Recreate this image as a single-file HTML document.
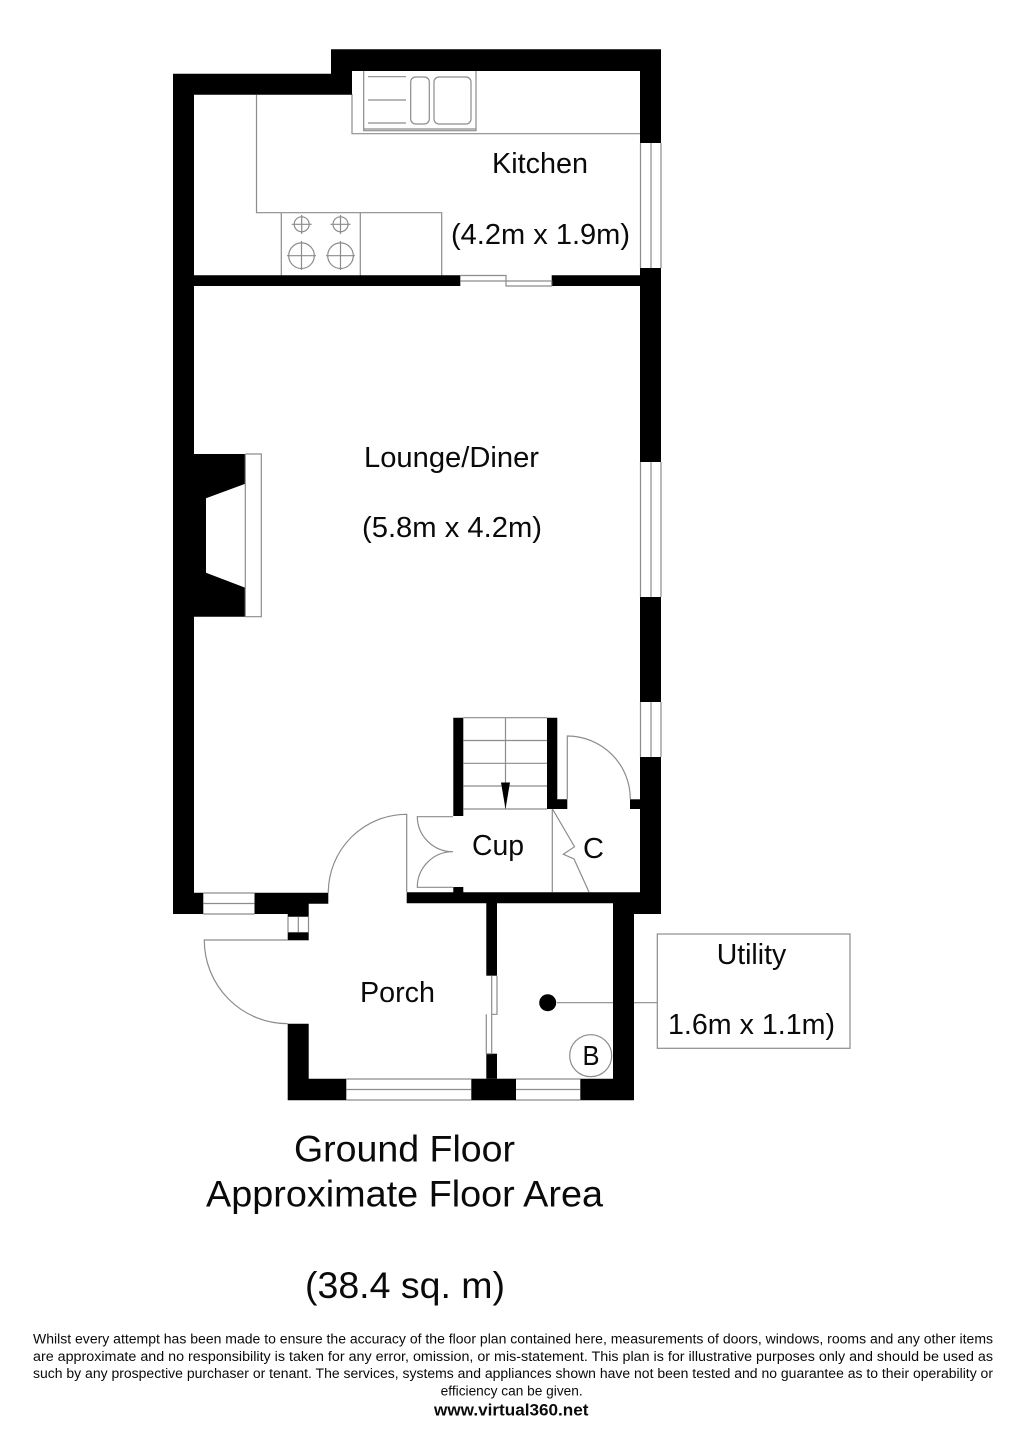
<!DOCTYPE html>
<html><head><meta charset="utf-8"><style>
html,body{margin:0;padding:0;background:#fff;width:1024px;height:1449px;overflow:hidden}
svg{display:block}
text{font-family:"Liberation Sans",sans-serif;fill:#0a0a0a}
.l{fill:none;stroke:#8c8c8c;stroke-width:1.2}
.w{fill:#000}
</style></head><body>
<svg width="1024" height="1449" viewBox="0 0 1024 1449" xmlns="http://www.w3.org/2000/svg">
<!-- kitchen fittings -->
<path class="l" d="M256.5 95V212.7H441.7V275.5M352 94V133.7H640M363.7 71V130.7H476V71M363.7 129H476M281.3 212.7V275.5M360.3 212.7V275.5"/>
<path class="l" d="M368 76.7H406M368 100H406M368 123H406"/>
<rect class="l" x="410.7" y="77" width="18.6" height="47" rx="5"/>
<rect class="l" x="434" y="77" width="37" height="47" rx="5"/>
<g class="l">
<circle cx="301.7" cy="224.3" r="7.5"/><path d="M291.7 224.3H311.7M301.7 215V234"/>
<circle cx="340.5" cy="224.3" r="7.5"/><path d="M330.5 224.3H350.5M340.5 215V234"/>
<circle cx="301.5" cy="255.7" r="12.8"/><path d="M287 255.7H316M301.5 241V270"/>
<circle cx="340.5" cy="255.7" r="12.8"/><path d="M326 255.7H355M340.5 241V270"/>
</g>
<!-- walls -->
<path class="w" d="M331 49.3H661V143H640V71H352V94.7H194V275.3H460.3V286H194V454H245.3V483.7L206 498.3V572.7L245.3 587.7V616.7H194V892.7H203.3V914H173V73.7H331Z"/>
<path class="w" d="M551.7 275.3H640V268H661V462H640V286H551.7Z"/>
<rect class="w" x="640" y="597" width="21" height="105"/>
<path class="w" d="M640 757H661V914H613V1078.7H634V1100.3H580.3V1078.7H613V903.3H406.7V892.3H640Z"/>
<path class="w" d="M613 903H634V1100H613Z"/>
<path class="w" d="M254.5 892.7H328.3V903.7H308.7V916.7H287.7V914H254.5Z"/>
<rect class="w" x="287.7" y="932.3" width="21" height="8"/>
<path class="w" d="M287.7 1023.7H308.7V1078.7H346.3V1100.3H287.7Z"/>
<rect class="w" x="471.3" y="1078.7" width="44.7" height="21.6"/>
<rect class="w" x="486.3" y="903" width="10.7" height="72.7"/>
<rect class="w" x="486.3" y="1053.7" width="10.7" height="25"/>
<path class="w" d="M453.3 717.7H463.3V816H453.3Z"/>
<path class="w" d="M547 717.7H557.3V799.3H567.3V809H547Z"/>
<rect class="w" x="630" y="799.3" width="10" height="9.7"/>
<rect class="w" x="453.3" y="887" width="10" height="6"/>
<!-- windows -->
<path class="l" d="M640.5 143V268M651 143V268M661 143V268"/>
<path class="l" d="M640.5 462V597M651 462V597M661 462V597"/>
<path class="l" d="M640.5 702V757M651 702V757M661 702V757"/>
<path class="l" d="M203.3 893H254.7M203.3 903.5H254.7M203.3 914H254.7"/>
<path class="l" d="M288 916.7V932.3M298.3 916.7V932.3M308.5 916.7V932.3"/>
<path class="l" d="M346.3 1079H471.3M346.3 1089.5H471.3M346.3 1100H471.3"/>
<path class="l" d="M516 1079H580.3M516 1089.5H580.3M516 1100H580.3"/>
<!-- sliding doors -->
<path class="l" d="M460.3 275.5H506V281H460.3M506 275.5V286H551.7V281H506"/>
<path class="l" d="M497 975.7V1014.3H491.7V975.7M491.7 1014.3V1053.7H486.3V1014.3"/>
<!-- fireplace -->
<path class="l" d="M245.3 454H261.3V616.7H245.3V454"/>
<!-- stairs -->
<path class="l" d="M463.3 717.7H547M463.3 740.5H547M463.3 763.3H547M463.3 786H547M463.3 809H547M505.5 717.7V809"/>
<path class="w" d="M501 782.5H510L505.5 809Z"/>
<!-- doors -->
<path class="l" d="M406.7 892V814.3A78.4 78.4 0 0 0 328.3 892.7"/>
<path class="l" d="M567.3 799V736A63 63 0 0 1 630.3 799"/>
<path class="l" d="M453 816.7H417.3A35.5 35.5 0 0 0 453 851.7A35.5 35.5 0 0 0 417.3 887.3H453"/>
<path class="l" d="M287.7 940H204.3A83.5 83.5 0 0 0 287.7 1023.7"/>
<!-- cupboard C -->
<path class="l" d="M552.3 809V892M552.5 809L574.5 846.7L563.3 854.3L574 859L589 892"/>
<!-- utility -->
<path class="l" d="M557 1002.7H613M634 1002.7H657.3"/>
<circle cx="547.7" cy="1002.7" r="8.5" fill="#000"/>
<rect class="l" x="657.3" y="934" width="192.7" height="114.3"/>
<circle class="l" cx="590.7" cy="1055.7" r="21"/>
<!-- labels -->
<text x="492" y="173" font-size="29" textLength="96" lengthAdjust="spacingAndGlyphs">Kitchen</text>
<text x="451" y="244" font-size="29" textLength="179" lengthAdjust="spacingAndGlyphs">(4.2m x 1.9m)</text>
<text x="364" y="467" font-size="29" textLength="175" lengthAdjust="spacingAndGlyphs">Lounge/Diner</text>
<text x="362" y="537" font-size="29" textLength="180" lengthAdjust="spacingAndGlyphs">(5.8m x 4.2m)</text>
<text x="472" y="855" font-size="29" textLength="52" lengthAdjust="spacingAndGlyphs">Cup</text>
<text x="583" y="858" font-size="29" textLength="21" lengthAdjust="spacingAndGlyphs">C</text>
<text x="360" y="1002" font-size="29" textLength="75" lengthAdjust="spacingAndGlyphs">Porch</text>
<text x="716.7" y="964" font-size="29" textLength="69.5" lengthAdjust="spacingAndGlyphs">Utility</text>
<text x="668" y="1034" font-size="29" textLength="167" lengthAdjust="spacingAndGlyphs">1.6m x 1.1m)</text>
<text x="582.5" y="1065" font-size="28" textLength="17" lengthAdjust="spacingAndGlyphs">B</text>
<text x="294" y="1161.7" font-size="37.5" textLength="221" lengthAdjust="spacingAndGlyphs">Ground Floor</text>
<text x="206" y="1206.7" font-size="37.5" textLength="397" lengthAdjust="spacingAndGlyphs">Approximate Floor Area</text>
<text x="305" y="1298" font-size="37.5" textLength="200" lengthAdjust="spacingAndGlyphs">(38.4 sq. m)</text>
<text x="33" y="1343.3" font-size="13.5" textLength="960" lengthAdjust="spacingAndGlyphs">Whilst every attempt has been made to ensure the accuracy of the floor plan contained here, measurements of doors, windows, rooms and any other items</text>
<text x="33" y="1361" font-size="13.5" textLength="960" lengthAdjust="spacingAndGlyphs">are approximate and no responsibility is taken for any error, omission, or mis-statement. This plan is for illustrative purposes only and should be used as</text>
<text x="33" y="1378" font-size="13.5" textLength="960" lengthAdjust="spacingAndGlyphs">such by any prospective purchaser or tenant. The services, systems and appliances shown have not been tested and no guarantee as to their operability or</text>
<text x="440.7" y="1395.3" font-size="13.5" textLength="142" lengthAdjust="spacingAndGlyphs">efficiency can be given.</text>
<text x="434" y="1415.3" font-size="16.5" font-weight="bold" textLength="154.5" lengthAdjust="spacingAndGlyphs">www.virtual360.net</text>
</svg>
</body></html>
